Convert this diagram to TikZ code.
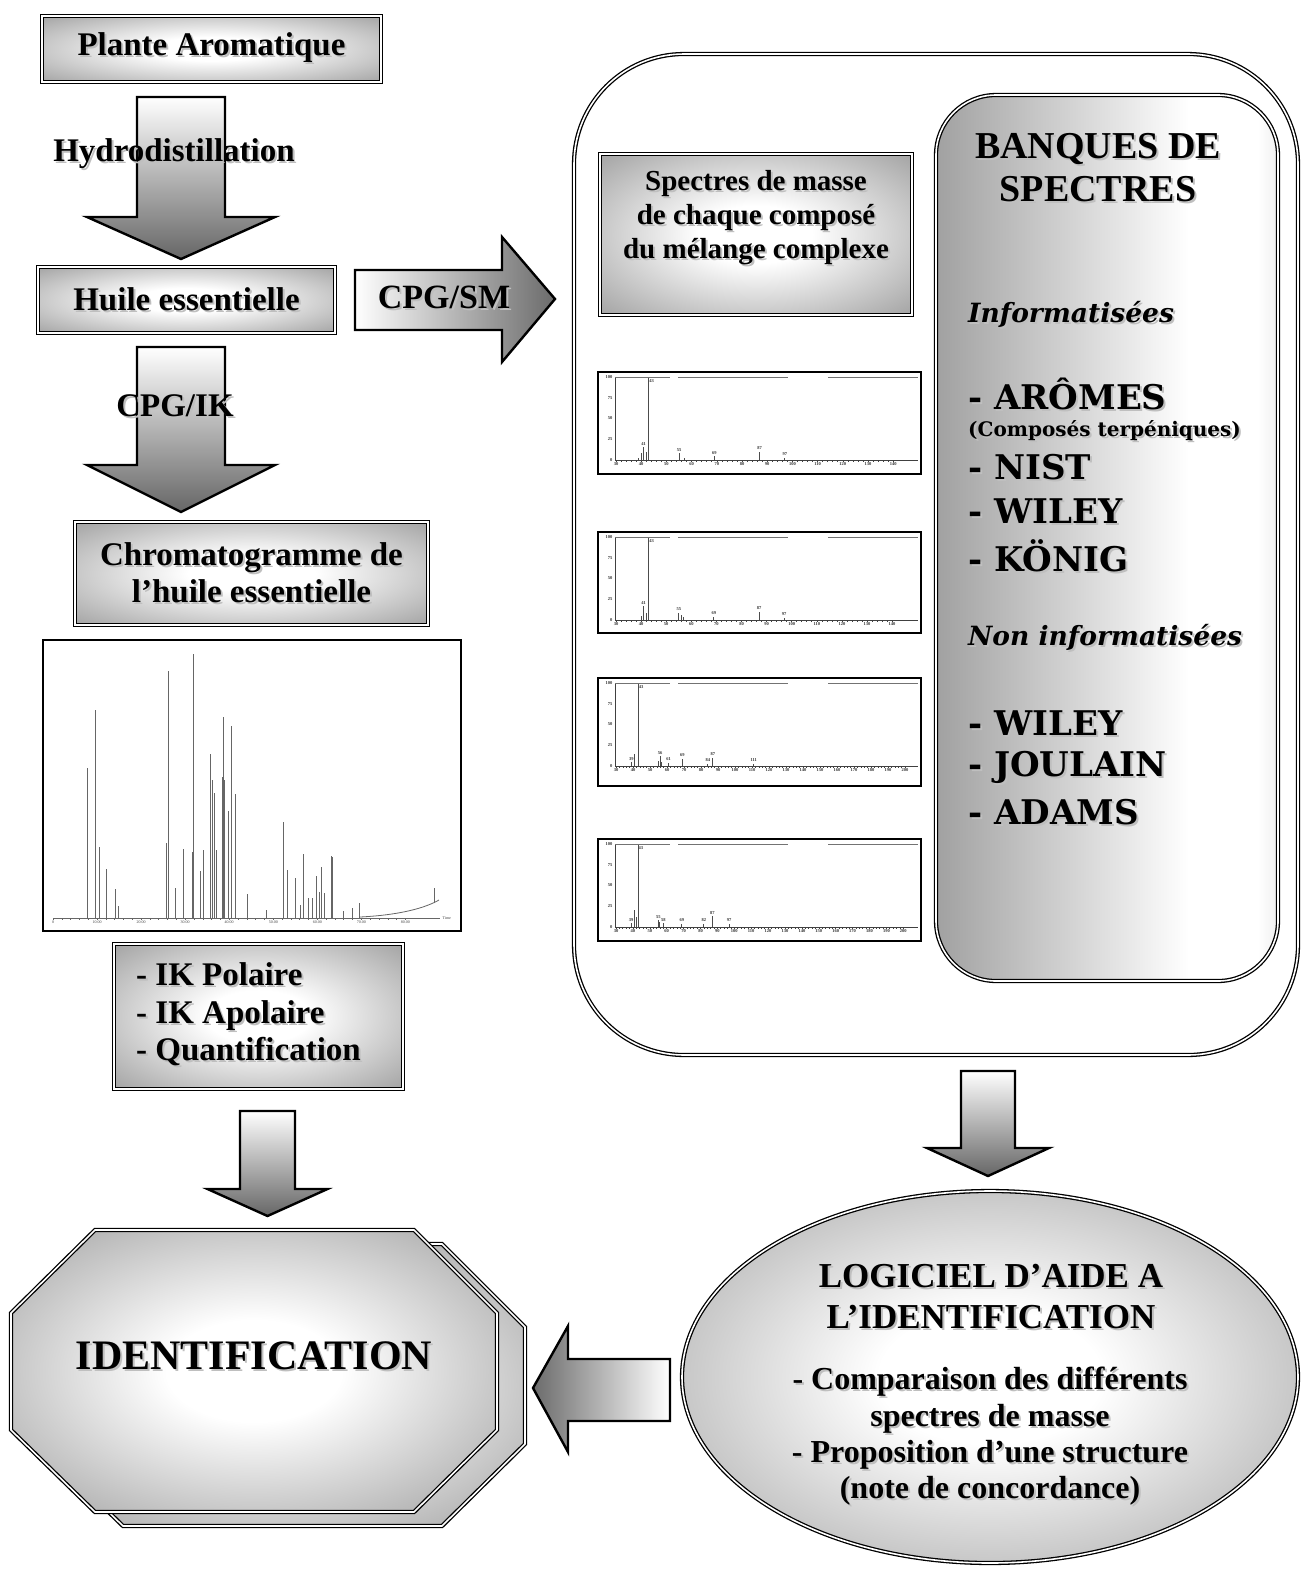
\documentclass[tikz,border=0pt]{standalone}
\usepackage{fontspec}
\setmainfont{Liberation Serif}
\newfontfamily\bankfont{DejaVu Serif}
\usetikzlibrary{shapes.geometric}

\pgfdeclareradialshading{boxglow}{\pgfpoint{0bp}{0bp}}{color(0bp)=(white); color(9bp)=(white); color(50bp)=(black!56)}
\pgfdeclarehorizontalshading{bankglow}{100bp}{color(0bp)=(black!62); color(62bp)=(white); color(72bp)=(white); color(100bp)=(black!58)}

% text with a light drop shadow
\newcommand{\sh}[1]{\leavevmode\rlap{\kern2pt\raisebox{-2pt}{\textcolor{black!25}{#1}}}#1}

% block arrow pointing down: centre x, top, shaft half width, head half width, shoulder, tip
\newcommand{\blockdown}[6]{%
  \draw[blockarrow, top color=white, bottom color=black!60]
    ({#1-#3},#2) -- ({#1+#3},#2) -- ({#1+#3},#5) -- ({#1+#4},#5) -- (#1,#6)
    -- ({#1-#4},#5) -- ({#1-#3},#5) -- cycle;}

% mass spectrum: name, origin, frame height, px per m/z unit, last m/z label, peaks m/height/label
\newcommand{\massspec}[6]{%
  \begin{scope}[shift={#2}]
    \node[specbox, minimum height=#3, anchor=north west] (#1) at (0,0) {};
    \draw[specaxis] (18,6) -- (18,89) -- (321,89);
    \draw[spectop] (18,6) -- (321,6);
    \foreach \v [count=\k from 0] in {100,75,50,25,0}
      \node[speclabel, anchor=east] at (16,{6+\k*20.75}) {\v};
    \foreach \m in {30,40,...,#5}
      \node[speclabel, anchor=north] at ({19+(\m-30)*#4},91) {\m};
    \foreach \m in {30,32,...,#5}
      \draw[specaxis] ({19+(\m-30)*#4},89) -- ++(0,1.5);
    \draw[specpeak] ({19+13*#4},89) -- ({19+13*#4},7);
    \node[speclabel, anchor=north west] at ({19+13*#4},8) {43};
    \foreach \m/\h/\l in {#6} {
      \draw[specpeak] ({19+(\m-30)*#4},89) -- ++(0,{-83*\h});
      \node[speclabel, anchor=south] at ({19+(\m-30)*#4},{88-83*\h}) {\l};
    }
  \end{scope}}

\begin{document}
\begin{tikzpicture}[x=1pt, y=-1pt,
  dbox/.style={draw, line width=1.3pt, double=white, double distance=1.6pt,
    shade, shading=boxglow, inner sep=0pt, align=center},
  wbox/.style={draw, line width=1.3pt, double=white, double distance=1.6pt, fill=white, inner sep=0pt},
  blockarrow/.style={draw, line width=2.4pt, line join=miter},
  boxtext/.style={font=\fontsize{33}{37.5}\selectfont\bfseries, inner sep=0pt, align=center},
  banktitle/.style={font=\fontsize{38}{43}\selectfont\bfseries, inner sep=0pt, align=center},
  banklist/.style={font=\bankfont\fontsize{34}{38}\selectfont\bfseries, inner sep=0pt, anchor=west},
  bankital/.style={font=\bankfont\fontsize{26.5}{31}\selectfont\bfseries\itshape, inner sep=0pt, anchor=west},
  specbox/.style={draw, line width=1.6pt, minimum width=323pt, inner sep=0pt},
  specaxis/.style={draw=black!75, line width=0.6pt},
  spectop/.style={draw=black!55, line width=0.8pt, dash pattern=on 55pt off 8pt on 110pt off 40pt on 150pt},
  specpeak/.style={draw=black!70, line width=0.9pt},
  speclabel/.style={font=\fontsize{4.5}{5}\selectfont\bfseries, inner sep=0.5pt, text=black!80},
  chromline/.style={draw=black!60, line width=0.8pt},
  chromlabel/.style={font=\fontsize{4}{5}\selectfont, inner sep=0.5pt, text=black!75}
]
\useasboundingbox (0,0) rectangle (1302,1569);
\fill[white] (0,0) rectangle (1302,1569);

% left column
\node[dbox, boxtext, minimum width=339pt, minimum height=66pt] (plante) at (211.5,49) {\sh{Plante Aromatique}};
\node[dbox, boxtext, minimum width=297pt, minimum height=66pt] (huile) at (186.5,300) {\sh{Huile essentielle}};
\node[dbox, boxtext, minimum width=353pt, minimum height=103pt] (chromato) at (251.5,573.5)
  {\sh{Chromatogramme de}\\\sh{l’huile essentielle}};

\blockdown{181}{97}{44}{94}{217}{259}
\blockdown{181}{347}{44}{94}{465}{512}
\draw[blockarrow, left color=white, right color=black!58]
  (355,270) -- (502,270) -- (502,237) -- (555,299) -- (502,362) -- (502,330) -- (355,330) -- cycle;

\node[boxtext] (hydro) at (174,155) {\sh{Hydrodistillation}};
\node[boxtext] (cpgik) at (175,407) {\sh{CPG/IK}};
\node[boxtext, font=\fontsize{34}{38}\selectfont\bfseries] (cpgsm) at (444,298) {\sh{CPG/SM}};

% chromatogram
\node[draw, line width=1.5pt, minimum width=418pt, minimum height=291pt, inner sep=0pt] (chromplot) at (252,785.5) {};
\foreach \px/\py in {87.3/768, 95/710, 99.7/847, 106.3/869, 115/889, 118.3/906, 166/843, 168.7/671,
    175.3/888, 183.7/849, 192/852, 193.3/654, 200.3/871, 203.7/850, 210.3/754, 212.3/780, 214.7/793,
    216/850, 222.3/777, 223/717, 224.3/780, 228/811, 231/726, 235.3/794, 247.7/894, 266.7/910,
    283/822, 287.3/870, 295/878, 300/905, 303.7/854, 308.3/898, 312.7/898, 316.7/876, 319.3/892,
    321.7/867, 324/893, 331/856, 332.3/857, 343.3/911, 352/908, 359.3/903}
  \draw[chromline] (\px,918) -- (\px,\py);
\draw[chromline] (53,918) -- (440,918);
\draw[chromline] (360,917) .. controls (400,915) and (425,908) .. (439,900);
\draw[chromline] (434,903) -- (434,888);
\foreach \k in {0,...,40}
  \draw[chromline, line width=0.5pt] ({53+\k*8.81},918) -- ++(0,1.5);
\foreach \t [count=\k from 0] in {0,10.00,20.00,30.00,40.00,50.00,60.00,70.00,80.00}
  \node[chromlabel, anchor=north] at ({53+\k*44.05},920) {\t};
\node[chromlabel, anchor=west] at (442,918) {Time};

\node[dbox, minimum width=289pt, minimum height=145pt] (ikbox) at (258.5,1016.5) {};
\node[boxtext, align=left] (iktext) at (248.5,1015.5)
  {\sh{- IK Polaire}\\\sh{- IK Apolaire}\\\sh{- Quantification}};

\blockdown{267.5}{1111}{27.5}{60}{1189}{1216}

% identification
\draw[dbox] (123,1244) -- (442,1244) -- (525,1327) -- (525,1444) -- (442,1526) -- (123,1526)
  -- (39,1444) -- (39,1327) -- cycle;
\draw[dbox] (95,1230) -- (414,1230) -- (497,1313) -- (497,1430) -- (414,1512) -- (95,1512)
  -- (11,1430) -- (11,1313) -- cycle;
\node[boxtext, font=\fontsize{42}{46}\selectfont\bfseries] (ident) at (254,1357) {\sh{IDENTIFICATION}};

% right column
\node[wbox, rounded corners=110pt, minimum width=724pt, minimum height=1001pt] (bigbox) at (936,554.5) {};
\node[dbox, minimum width=312pt, minimum height=161pt] (spectres) at (756,234.5) {};
\node[boxtext, font=\fontsize{29}{34}\selectfont\bfseries] (spectext) at (756,219)
  {\sh{Spectres de masse}\\\sh{de chaque composé}\\\sh{du mélange complexe}};

\massspec{specA}{(597,371)}{102pt}{2.52}{140}{39/0.03/{}, 40/0.08/{}, 41/0.16/41, 42/0.1/{}, 55/0.08/55, 57/0.03/{}, 69/0.05/69, 87/0.1/87, 97/0.03/97}
\massspec{specB}{(597,531)}{101pt}{2.51}{140}{40/0.05/{}, 41/0.17/41, 42/0.08/{}, 55/0.09/55, 56/0.06/{}, 57/0.04/{}, 69/0.04/69, 87/0.1/87, 97/0.03/97}
\massspec{specC}{(597,677)}{108pt}{1.70}{200}{39/0.05/39, 41/0.15/{}, 55/0.06/{}, 56/0.12/56, 57/0.05/{}, 61/0.04/61, 69/0.09/69, 84/0.03/84, 87/0.1/87, 111/0.03/111}
\massspec{specD}{(597,838)}{102pt}{1.69}{200}{39/0.05/39, 41/0.2/{}, 42/0.12/{}, 55/0.08/55, 56/0.06/{}, 58/0.05/58, 69/0.04/69, 82/0.04/82, 87/0.13/87, 97/0.04/97}

\node[dbox, shading=bankglow, rounded corners=60pt, minimum width=342pt, minimum height=886pt] (banques) at (1107,538) {};
\node[banktitle] (banktitle) at (1098,168.5) {\sh{BANQUES DE}\\\sh{SPECTRES}};
\node[bankital] (info) at (968,315) {\sh{Informatisées}};
\node[bankital] (noninfo) at (968,638) {\sh{Non informatisées}};
\node[banklist, font=\bankfont\fontsize{20}{24}\selectfont\bfseries] (terpen) at (968,432) {\sh{(Composés terpéniques)}};
\foreach \yy/\t [count=\i] in {395/ARÔMES, 468/NIST, 512/WILEY, 557/KÖNIG, 724/WILEY, 768/JOULAIN, 813/ADAMS}
  \node[banklist] (bank\i) at (968,\yy) {\sh{- \t}};

\blockdown{988}{1071}{27}{61}{1148}{1176}

% software
\node[dbox, ellipse, minimum width=616pt, minimum height=372pt] (logiciel) at (990,1377) {};
\node[boxtext, font=\fontsize{35}{41}\selectfont\bfseries] (logtitle) at (991,1297.5)
  {\sh{LOGICIEL D’AIDE A}\\\sh{L’IDENTIFICATION}};
\node[boxtext, font=\fontsize{32}{36.3}\selectfont\bfseries] (logbody) at (990,1437.5)
  {\sh{- Comparaison des différents}\\\sh{spectres de masse}\\\sh{- Proposition d’une structure}\\\sh{(note de concordance)}};

\draw[blockarrow, left color=black!58, right color=white]
  (670,1359) -- (568,1359) -- (568,1326) -- (533,1388) -- (568,1452) -- (568,1421) -- (670,1421) -- cycle;
\end{tikzpicture}
\end{document}
